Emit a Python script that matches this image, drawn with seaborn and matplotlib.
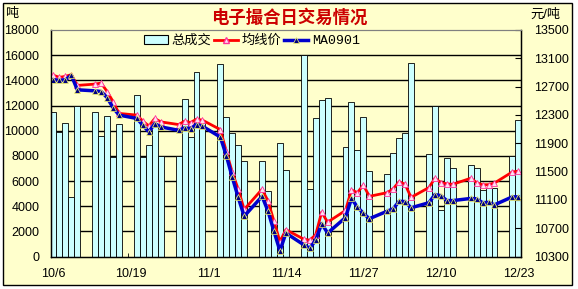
import numpy as np
import pandas as pd
import matplotlib
matplotlib.use('Agg')
import matplotlib.pyplot as plt
import seaborn as sns
from matplotlib.patches import Rectangle, Patch
from matplotlib.lines import Line2D

dates = ['10/6', '10/7', '10/8', '10/9', '10/10',
         '10/13', '10/14', '10/15', '10/16', '10/17',
         '10/20', '10/21', '10/22', '10/23', '10/24',
         '10/27', '10/28', '10/29', '10/30', '10/31',
         '11/3', '11/4', '11/5', '11/6', '11/7',
         '11/10', '11/11', '11/12', '11/13', '11/14',
         '11/17', '11/18', '11/19', '11/20', '11/21',
         '11/24', '11/25', '11/26', '11/27', '11/28',
         '12/1', '12/2', '12/3', '12/4', '12/5',
         '12/8', '12/9', '12/10', '12/11', '12/12',
         '12/15', '12/16', '12/17', '12/18', '12/19',
         '12/22', '12/23']

volume = [11500, 9900, 10600, 4700, 12000,
          11450, 9600, 11150, 7900, 10500,
          12850, 7900, 8900, 10300, 8000,
          8000, 12500, 9500, 14650, 10800,
          15300, 11050, 9850, 8900, 7550,
          7550, 5200, 2600, 9050, 6900,
          16000, 5400, 11000, 12400, 12600,
          8700, 12250, 8450, 11050, 6800,
          6550, 8250, 9400, 9850, 15350,
          8150, 11950, 3700, 7850, 7000,
          7300, 7050, 5300, 5450, 5450,
          7950, 10850]

avg_price = [12860, 12831, 12845, 12869, 12717,
             12736, 12750, 12631, 12488, 12321,
             12298, 12212, 12145, 12250, 12202,
             12164, 12212, 12193, 12240, 12226,
             12093, 11785, 11490, 11250, 10965,
             11250, 11084, 10798, 10510, 10679,
             10545, 10530, 10608, 10926, 10785,
             10950, 11240, 11203, 11310, 11150,
             11202, 11257, 11357, 11320, 11135,
             11274, 11405, 11345, 11327, 11320,
             11405, 11345, 11312, 11315, 11338,
             11495, 11505]

ma0901 = [12798, 12788, 12798, 12860, 12655,
          12640, 12631, 12545, 12402, 12298,
          12250, 12155, 12060, 12179, 12131,
          12083, 12117, 12107, 12164, 12140,
          11988, 11726, 11420, 11135, 10869,
          11150, 10941, 10655, 10380, 10631,
          10465, 10417, 10530, 10765, 10631,
          10850, 11120, 10998, 10910, 10834,
          10940, 10974, 11080, 11076, 10988,
          11060, 11175, 11160, 11090, 11090,
          11120, 11115, 11060, 11065, 11030,
          11143, 11143]

tick_labels = ['10/6', '10/19', '11/1', '11/14', '11/27', '12/10', '12/23']
left_ticks = list(range(0, 18001, 2000))
right_ticks = list(range(10300, 13501, 400))

plt.rcParams['font.family'] = ['Liberation Sans', 'Noto Sans CJK SC']

start = pd.Timestamp('2008-10-06')
day = np.array([(pd.Timestamp('2008/' + d) - start).days for d in dates])
tick_day = np.array([(pd.Timestamp('2008/' + d) - start).days for d in tick_labels])

df = pd.DataFrame({'x': day + 0.5, 'vol': volume, 'avg': avg_price, 'ma': ma0901})

W, H = 578, 289
fig = plt.figure(figsize=(W / 100, H / 100), dpi=100, facecolor='white')
fig.patches.append(Rectangle((3 / W, 1 - 285 / H), 569 / W, 282 / H, transform=fig.transFigure,
                             facecolor='#FFFFCC', edgecolor='black', lw=1, zorder=-10))

ax = fig.add_axes([50.5 / W, 1 - 256.5 / H, (521.3 - 50.5) / W, (256.5 - 30) / H])
ax.set_facecolor('#FFFFCC')

sns.barplot(data=df, x='x', y='vol', native_scale=True, width=1.0, color='#CCFFFF',
            edgecolor='black', linewidth=0.6, saturation=1, ax=ax, zorder=2)
ax.set_xlim(0, day.max() + 1)
ax.set_ylim(0, 18000)
ax.set_yticks(left_ticks)
ax.set_yticklabels([str(v) for v in left_ticks], fontsize=9)
for v in left_ticks[1:-1]:
    ax.axhline(v, color='black', lw=1, zorder=1)
ax.set_xticks(tick_day + 0.5)
ax.set_xticklabels(tick_labels, fontsize=9)
ax.set_xticks(tick_day, minor=True)
ax.tick_params(axis='x', which='major', length=0, pad=8)
ax.tick_params(axis='x', which='minor', direction='in', length=3, color='black')
ax.tick_params(axis='y', length=0, pad=8)
ax.set_xlabel('')
ax.set_ylabel('')
for s in ['left', 'bottom', 'right']:
    ax.spines[s].set_color('black')
    ax.spines[s].set_linewidth(1)
ax.spines['top'].set_color('#808080')

ax2 = ax.twinx()
sns.lineplot(data=df, x='x', y='avg', ax=ax2, color='#FF0000', lw=2, marker='^', markersize=4,
             markerfacecolor='#FFE0F0', markeredgecolor='#FF3399', markeredgewidth=0.6)
sns.lineplot(data=df, x='x', y='ma', ax=ax2, color='#0000CC', lw=2.5, marker='^', markersize=5,
             markerfacecolor='#000080', markeredgecolor='#FFFF66', markeredgewidth=0.5)
ax2.set_ylim(10300, 13500)
ax2.set_yticks(right_ticks)
ax2.set_yticklabels([str(v) for v in right_ticks], fontsize=9)
ax2.tick_params(axis='y', direction='in', length=4, pad=9)
ax2.set_ylabel('')
ax2.set_xlabel('')
ax2.spines['right'].set_color('black')
ax2.spines['top'].set_color('#808080')

fig.text(289 / W, 1 - 17 / H, '电子撮合日交易情况', color='#CC0000', fontsize=12.5,
         fontweight='bold', ha='center', va='center')
fig.text(12 / W, 1 - 14 / H, '吨', fontsize=9.5, ha='center', va='center')
fig.text(545 / W, 1 - 15 / H, '元/吨', fontsize=9.5, ha='center', va='center')

handles = [Patch(facecolor='#CCFFFF', edgecolor='black', lw=0.8),
           Line2D([], [], color='#FF0000', lw=2, marker='^', markersize=4,
                  markerfacecolor='#FFE0F0', markeredgecolor='#FF3399'),
           Line2D([], [], color='#0000CC', lw=2.5, marker='^', markersize=5,
                  markerfacecolor='#000080', markeredgecolor='#FFFF66', markeredgewidth=0.5)]
leg = fig.legend(handles, ['总成交', '均线价', 'MA0901'], loc='center left',
                 bbox_to_anchor=(132 / W, 1 - 41 / H), ncol=3, frameon=False, fontsize=9.5,
                 handlelength=1.8, handletextpad=0.3, columnspacing=0.2, handleheight=0.6)
leg.get_texts()[2].set_fontfamily(['Liberation Mono'])

fig.savefig('out.png', dpi=100, facecolor='white')
